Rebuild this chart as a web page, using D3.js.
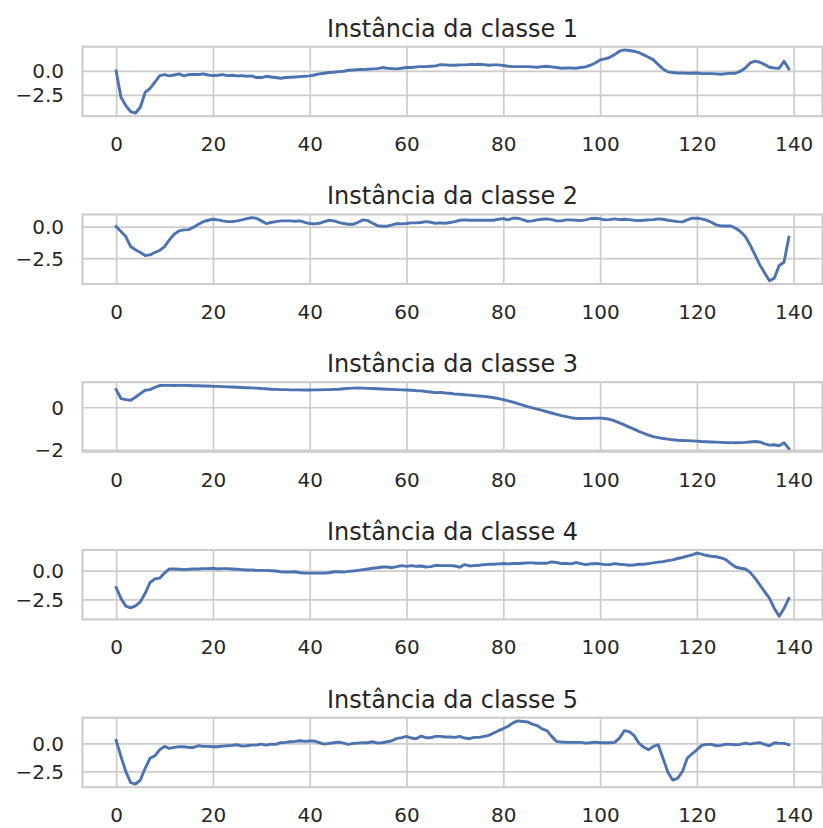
<!DOCTYPE html>
<html>
<head>
<meta charset="utf-8">
<script src="https://cdn.jsdelivr.net/npm/d3@7"></script>
<style>
  html, body { margin: 0; padding: 0; background: #ffffff; }
  svg { display: block; }
  text { font-family: "DejaVu Sans", sans-serif; fill: #262626; }
</style>
</head>
<body>
<div id="chart"></div>
<script>
// ECG heartbeat instances, one per class (140 samples each)
const titles = [
  "Instância da classe 1",
  "Instância da classe 2",
  "Instância da classe 3",
  "Instância da classe 4",
  "Instância da classe 5"
];

const class1 = [
  0.00, -2.74, -3.61, -4.24, -4.38, -3.78, -2.22, -1.81, -1.18, -0.49,
  -0.38, -0.52, -0.42, -0.31, -0.52, -0.38, -0.38, -0.38, -0.31, -0.42,
  -0.49, -0.45, -0.38, -0.49, -0.45, -0.52, -0.49, -0.56, -0.52, -0.69,
  -0.69, -0.56, -0.63, -0.69, -0.76, -0.69, -0.66, -0.63, -0.59, -0.56,
  -0.52, -0.42, -0.31, -0.24, -0.17, -0.14, -0.07, -0.03, 0.07, 0.10,
  0.14, 0.14, 0.17, 0.21, 0.24, 0.35, 0.28, 0.24, 0.21, 0.28,
  0.35, 0.35, 0.42, 0.45, 0.45, 0.49, 0.52, 0.66, 0.63, 0.59,
  0.59, 0.63, 0.63, 0.66, 0.66, 0.69, 0.66, 0.59, 0.63, 0.63,
  0.56, 0.49, 0.45, 0.45, 0.45, 0.45, 0.42, 0.38, 0.45, 0.49,
  0.42, 0.35, 0.28, 0.31, 0.31, 0.28, 0.35, 0.42, 0.59, 0.83,
  1.15, 1.25, 1.42, 1.70, 2.05, 2.19, 2.12, 2.05, 1.91, 1.67,
  1.42, 1.15, 0.66, 0.21, -0.10, -0.17, -0.21, -0.21, -0.24, -0.24,
  -0.21, -0.28, -0.28, -0.28, -0.31, -0.35, -0.28, -0.24, -0.24, -0.03,
  0.31, 0.83, 1.01, 0.90, 0.66, 0.38, 0.31, 0.28, 1.01, 0.21
];

const class2 = [
  0.00, -0.39, -0.79, -1.58, -1.84, -2.05, -2.29, -2.24, -2.05, -1.89,
  -1.58, -1.05, -0.61, -0.34, -0.26, -0.24, -0.05, 0.18, 0.39, 0.50,
  0.58, 0.53, 0.45, 0.39, 0.39, 0.45, 0.53, 0.63, 0.71, 0.66,
  0.45, 0.24, 0.32, 0.39, 0.45, 0.45, 0.45, 0.42, 0.45, 0.34,
  0.24, 0.21, 0.26, 0.39, 0.50, 0.45, 0.34, 0.24, 0.18, 0.18,
  0.34, 0.53, 0.47, 0.26, 0.08, 0.03, 0.03, 0.13, 0.24, 0.21,
  0.24, 0.29, 0.29, 0.32, 0.39, 0.34, 0.26, 0.29, 0.26, 0.32,
  0.39, 0.50, 0.53, 0.50, 0.50, 0.50, 0.50, 0.50, 0.50, 0.58,
  0.63, 0.53, 0.66, 0.66, 0.55, 0.42, 0.45, 0.53, 0.58, 0.61,
  0.55, 0.45, 0.45, 0.53, 0.53, 0.50, 0.47, 0.53, 0.63, 0.66,
  0.61, 0.53, 0.55, 0.61, 0.55, 0.58, 0.55, 0.50, 0.47, 0.50,
  0.53, 0.55, 0.61, 0.58, 0.50, 0.45, 0.39, 0.37, 0.53, 0.66,
  0.66, 0.61, 0.50, 0.34, 0.13, 0.05, 0.05, 0.05, -0.13, -0.39,
  -0.79, -1.45, -2.24, -3.03, -3.68, -4.29, -4.08, -3.08, -2.82, -0.84
];

const class3 = [
  0.83, 0.41, 0.36, 0.33, 0.47, 0.64, 0.80, 0.83, 0.94, 1.02,
  1.03, 1.03, 1.02, 1.03, 1.03, 1.02, 1.01, 1.01, 1.00, 1.00,
  0.98, 0.98, 0.97, 0.96, 0.95, 0.94, 0.93, 0.92, 0.91, 0.90,
  0.88, 0.87, 0.85, 0.84, 0.83, 0.83, 0.82, 0.82, 0.82, 0.81,
  0.81, 0.82, 0.82, 0.83, 0.83, 0.84, 0.85, 0.87, 0.89, 0.90,
  0.91, 0.90, 0.89, 0.88, 0.87, 0.86, 0.85, 0.84, 0.83, 0.82,
  0.81, 0.80, 0.78, 0.77, 0.74, 0.72, 0.69, 0.70, 0.67, 0.66,
  0.62, 0.61, 0.59, 0.57, 0.55, 0.53, 0.51, 0.48, 0.45, 0.41,
  0.36, 0.30, 0.24, 0.17, 0.10, 0.03, -0.03, -0.09, -0.15, -0.21,
  -0.27, -0.33, -0.39, -0.44, -0.49, -0.52, -0.53, -0.52, -0.52, -0.51,
  -0.51, -0.53, -0.57, -0.64, -0.73, -0.83, -0.93, -1.03, -1.13, -1.22,
  -1.31, -1.38, -1.43, -1.47, -1.50, -1.53, -1.55, -1.56, -1.57, -1.58,
  -1.59, -1.61, -1.62, -1.63, -1.64, -1.65, -1.66, -1.66, -1.67, -1.66,
  -1.65, -1.63, -1.61, -1.63, -1.72, -1.78, -1.76, -1.81, -1.67, -1.94
];

const class4 = [
  -1.47, -2.41, -3.09, -3.24, -3.06, -2.71, -1.97, -1.03, -0.71, -0.65,
  -0.21, 0.15, 0.15, 0.12, 0.09, 0.12, 0.15, 0.15, 0.18, 0.18,
  0.21, 0.15, 0.18, 0.18, 0.15, 0.12, 0.09, 0.06, 0.06, 0.03,
  0.03, 0.03, 0.00, -0.03, -0.09, -0.12, -0.12, -0.09, -0.18, -0.21,
  -0.21, -0.21, -0.21, -0.21, -0.18, -0.09, -0.09, -0.12, -0.06, -0.03,
  0.03, 0.09, 0.15, 0.21, 0.26, 0.32, 0.32, 0.26, 0.35, 0.44,
  0.38, 0.44, 0.38, 0.41, 0.32, 0.35, 0.47, 0.44, 0.44, 0.44,
  0.41, 0.29, 0.53, 0.41, 0.44, 0.47, 0.53, 0.56, 0.56, 0.59,
  0.62, 0.59, 0.62, 0.62, 0.65, 0.68, 0.68, 0.65, 0.65, 0.65,
  0.76, 0.71, 0.62, 0.62, 0.59, 0.71, 0.62, 0.53, 0.59, 0.62,
  0.59, 0.53, 0.53, 0.62, 0.56, 0.53, 0.47, 0.50, 0.56, 0.56,
  0.62, 0.68, 0.74, 0.79, 0.88, 0.94, 1.06, 1.15, 1.26, 1.38,
  1.53, 1.44, 1.32, 1.26, 1.21, 1.12, 0.97, 0.62, 0.32, 0.21,
  0.15, -0.15, -0.65, -1.24, -1.82, -2.41, -3.29, -3.97, -3.29, -2.41
];

const class5 = [
  0.27, -1.17, -2.53, -3.52, -3.64, -3.28, -2.23, -1.33, -1.11, -0.57,
  -0.27, -0.45, -0.36, -0.30, -0.30, -0.36, -0.36, -0.21, -0.27, -0.27,
  -0.30, -0.30, -0.24, -0.21, -0.18, -0.12, -0.24, -0.21, -0.15, -0.15,
  -0.06, -0.15, -0.06, -0.09, 0.06, 0.09, 0.15, 0.18, 0.24, 0.18,
  0.21, 0.21, 0.06, -0.06, 0.00, 0.06, 0.12, 0.03, -0.09, 0.00,
  0.03, 0.06, 0.06, 0.15, 0.03, 0.06, 0.15, 0.24, 0.45, 0.51,
  0.63, 0.48, 0.42, 0.66, 0.51, 0.51, 0.63, 0.63, 0.57, 0.57,
  0.54, 0.63, 0.48, 0.42, 0.54, 0.54, 0.63, 0.72, 0.93, 1.14,
  1.33, 1.54, 1.84, 2.02, 1.96, 1.93, 1.72, 1.60, 1.30, 1.14,
  0.63, 0.18, 0.12, 0.09, 0.09, 0.09, 0.09, 0.03, 0.06, 0.12,
  0.06, 0.06, 0.06, 0.09, 0.48, 1.14, 1.05, 0.72, 0.03, -0.33,
  -0.57, -0.27, -0.12, -1.33, -2.59, -3.28, -3.13, -2.53, -1.33, -0.93,
  -0.57, -0.18, -0.09, -0.09, -0.21, -0.18, -0.06, -0.09, -0.12, -0.09,
  0.03, -0.06, 0.03, 0.06, -0.09, -0.21, 0.06, 0.00, 0.00, -0.12
];

const xTicks = [0, 20, 40, 60, 80, 100, 120, 140];
const yTicks1 = [0, -2.5];
const yTicks2 = [0, -2.5];
const yTicks3 = [0, -2];
const yTicks4 = [0, -2.5];
const yTicks5 = [0, -2.5];
const yTickFormats = [".1f", ".1f", ".0f", ".1f", ".1f"];

const seriesList = [class1, class2, class3, class4, class5];
const yTickList = [yTicks1, yTicks2, yTicks3, yTicks4, yTicks5];

// Page geometry
const W = 823, H = 828;
const axLeft = 82.5, axRight = 822.5;
const firstTop = 46.7, panelStep = 167.75, panelH = 69.5;

const gridColor = "#cccccc";
const lineColor = "#4c72b0";

const svg = d3.select("#chart").append("svg")
  .attr("width", W).attr("height", H)
  .attr("viewBox", `0 0 ${W} ${H}`);

const fmtMinus = f => v => d3.format(f)(v).replace("-", "\u2212");

seriesList.forEach((vals, k) => {
  const top = firstTop + panelStep * k;
  const bottom = top + panelH;
  const n = vals.length;

  // x limits with 5% margins on either side
  const xSpan = (n - 1);
  const x = d3.scaleLinear()
    .domain([-0.05 * xSpan, (n - 1) + 0.05 * xSpan])
    .range([axLeft, axRight]);

  const [ymin, ymax] = d3.extent(vals);
  const ySpan = ymax - ymin;
  const y = d3.scaleLinear()
    .domain([ymin - 0.05 * ySpan, ymax + 0.05 * ySpan])
    .range([bottom, top]);

  const g = svg.append("g");
  const clipId = "clip" + k;
  g.append("clipPath").attr("id", clipId)
    .append("rect")
    .attr("x", axLeft).attr("y", top)
    .attr("width", axRight - axLeft).attr("height", panelH);

  // vertical grid lines via the axis generator
  const xGrid = d3.axisBottom(x).tickValues(xTicks)
    .tickSize(-(panelH)).tickFormat("");
  g.append("g").attr("transform", `translate(0,${bottom})`)
    .call(xGrid)
    .call(s => s.select(".domain").remove())
    .call(s => s.selectAll("line").attr("stroke", gridColor).attr("stroke-width", 1.7));

  // horizontal grid lines
  const yGrid = d3.axisLeft(y).tickValues(yTickList[k])
    .tickSize(-(axRight - axLeft)).tickFormat("");
  g.append("g").attr("transform", `translate(${axLeft},0)`)
    .call(yGrid)
    .call(s => s.select(".domain").remove())
    .call(s => s.selectAll("line").attr("stroke", gridColor).attr("stroke-width", 1.7));

  // series line
  const line = d3.line()
    .x((d, i) => x(i))
    .y(d => y(d));
  g.append("path")
    .datum(vals)
    .attr("clip-path", `url(#${clipId})`)
    .attr("fill", "none")
    .attr("stroke", lineColor)
    .attr("stroke-width", 2.9)
    .attr("stroke-linejoin", "round")
    .attr("stroke-linecap", "square")
    .attr("d", line);

  // frame
  g.append("rect")
    .attr("x", axLeft).attr("y", top)
    .attr("width", axRight - axLeft).attr("height", panelH)
    .attr("fill", "none")
    .attr("stroke", gridColor)
    .attr("stroke-width", 2.1);

  // x tick labels
  const xAxis = d3.axisBottom(x).tickValues(xTicks).tickSize(0).tickPadding(0);
  g.append("g").attr("transform", `translate(0,${bottom})`)
    .call(xAxis)
    .call(s => s.select(".domain").remove())
    .call(s => s.selectAll("text")
      .attr("y", 35).attr("dy", null)
      .attr("font-size", 20)
      .attr("font-family", "DejaVu Sans")
      .attr("fill", "#262626"));

  // y tick labels
  const yAxis = d3.axisLeft(y).tickValues(yTickList[k])
    .tickSize(0).tickFormat(fmtMinus(yTickFormats[k]));
  g.append("g").attr("transform", `translate(${axLeft},0)`)
    .call(yAxis)
    .call(s => s.select(".domain").remove())
    .call(s => s.selectAll("text")
      .attr("x", -18.5).attr("dy", "0.35em")
      .attr("font-size", 20)
      .attr("font-family", "DejaVu Sans")
      .attr("fill", "#262626"));

  // panel title
  g.append("text")
    .attr("x", (axLeft + axRight) / 2)
    .attr("y", top - 10)
    .attr("text-anchor", "middle")
    .attr("font-size", 24)
    .text(titles[k]);
});
</script>
</body>
</html>
